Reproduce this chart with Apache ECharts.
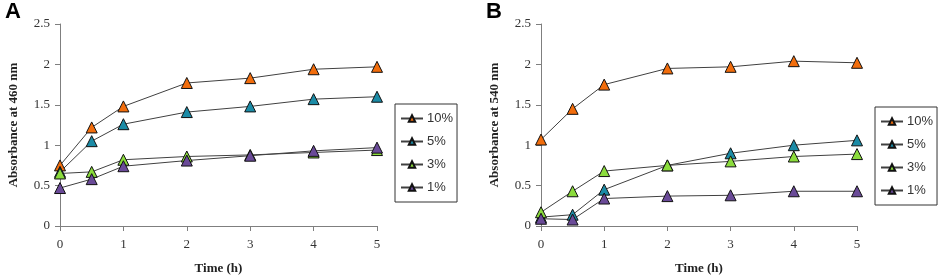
<!DOCTYPE html>
<html>
<head>
<meta charset="utf-8">
<script src="https://cdn.jsdelivr.net/npm/echarts@6/dist/echarts.min.js"></script>
<style>
  html, body { margin: 0; padding: 0; background: #fff; }
  #chart { width: 941px; height: 280px; }
</style>
</head>
<body>
<div id="chart"></div>
<script>
// data
const hours = [0, 0.5, 1, 2, 3, 4, 5];
const seriesNames = ['10%', '5%', '3%', '1%'];

// panel A, absorbance at 460 nm
const a10 = [0.75, 1.22, 1.48, 1.77, 1.83, 1.94, 1.97];
const a5 = [0.67, 1.05, 1.26, 1.41, 1.48, 1.57, 1.60];
const a3 = [0.65, 0.67, 0.82, 0.86, 0.88, 0.91, 0.94];
const a1 = [0.47, 0.58, 0.74, 0.81, 0.87, 0.93, 0.97];

// panel B, absorbance at 540 nm
const b10 = [1.07, 1.45, 1.75, 1.95, 1.97, 2.04, 2.02];
const b5 = [0.11, 0.14, 0.45, 0.75, 0.90, 1.00, 1.06];
const b3 = [0.17, 0.43, 0.68, 0.75, 0.80, 0.86, 0.89];
const b1 = [0.09, 0.08, 0.34, 0.37, 0.38, 0.43, 0.43];

const colors = ['#f26d0c', '#1b8ba6', '#8bdc3c', '#6a4a98'];

const chart = echarts.init(document.getElementById('chart'));

const serif = 'Liberation Serif, Times New Roman, serif';
const axisLine = { lineStyle: { color: '#7f7f7f', width: 1 } };

function xAxis(grid) {
  return {
    type: 'value', gridIndex: grid, min: 0, max: 5, interval: 1,
    name: 'Time (h)', nameLocation: 'middle', nameGap: 36,
    nameTextStyle: { fontFamily: serif, fontWeight: 'bold', fontSize: 13, color: '#222' },
    axisLine: axisLine,
    axisTick: { show: true, inside: false, length: 5, lineStyle: { color: '#7f7f7f' } },
    axisLabel: { fontFamily: serif, fontSize: 13, color: '#333', margin: 12 },
    splitLine: { show: false }
  };
}

function yAxis(grid, nm) {
  return {
    type: 'value', gridIndex: grid, min: 0, max: 2.5, interval: 0.5,
    name: 'Absorbance at ' + nm + ' nm', nameLocation: 'middle', nameGap: 40, nameRotate: 90,
    nameTextStyle: { fontFamily: serif, fontWeight: 'bold', fontSize: 13, color: '#222' },
    axisLine: { show: true, lineStyle: { color: '#7f7f7f', width: 1 } },
    axisTick: { show: true, inside: false, length: 5, lineStyle: { color: '#7f7f7f' } },
    axisLabel: { fontFamily: serif, fontSize: 13, color: '#333', margin: 10 },
    splitLine: { show: false }
  };
}

function line(name, vals, grid, color) {
  return {
    name: name, type: 'line', xAxisIndex: grid, yAxisIndex: grid,
    data: hours.map((h, i) => [h, vals[i]]),
    symbol: 'triangle', symbolSize: 11,
    lineStyle: { color: '#404040', width: 1 },
    itemStyle: { color: color, borderColor: '#111', borderWidth: 1 },
    emphasis: { disabled: true },
    animation: false
  };
}

const legendBase = {
  data: seriesNames,
  orient: 'vertical',
  itemWidth: 22, itemHeight: 8, itemGap: 10,
  padding: [8, 4, 8, 5],
  borderColor: '#333', borderWidth: 1,
  textStyle: { fontFamily: 'Liberation Sans, Arial, sans-serif', fontSize: 13, color: '#333', padding: [0, 0, 0, -1] }
};

const option = {
  animation: false,
  title: [
    { text: 'A', left: 0, top: -4, textStyle: { fontFamily: 'Liberation Sans, Arial', fontWeight: 'bold', fontSize: 22, color: '#000' } },
    { text: 'B', left: 481, top: -4, textStyle: { fontFamily: 'Liberation Sans, Arial', fontWeight: 'bold', fontSize: 22, color: '#000' } }
  ],
  legend: [
    Object.assign({}, legendBase, { left: 395, top: 104 }),
    Object.assign({}, legendBase, { left: 875, top: 107 })
  ],
  grid: [
    { left: 60, top: 24, width: 317, height: 202 },
    { left: 541, top: 24, width: 316, height: 202 }
  ],
  xAxis: [xAxis(0), xAxis(1)],
  yAxis: [yAxis(0, 460), yAxis(1, 540)],
  series: [
    line(seriesNames[0], a10, 0, colors[0]),
    line(seriesNames[1], a5, 0, colors[1]),
    line(seriesNames[2], a3, 0, colors[2]),
    line(seriesNames[3], a1, 0, colors[3]),
    line(seriesNames[0], b10, 1, colors[0]),
    line(seriesNames[1], b5, 1, colors[1]),
    line(seriesNames[2], b3, 1, colors[2]),
    line(seriesNames[3], b1, 1, colors[3])
  ]
};

chart.setOption(option);
</script>
</body>
</html>
